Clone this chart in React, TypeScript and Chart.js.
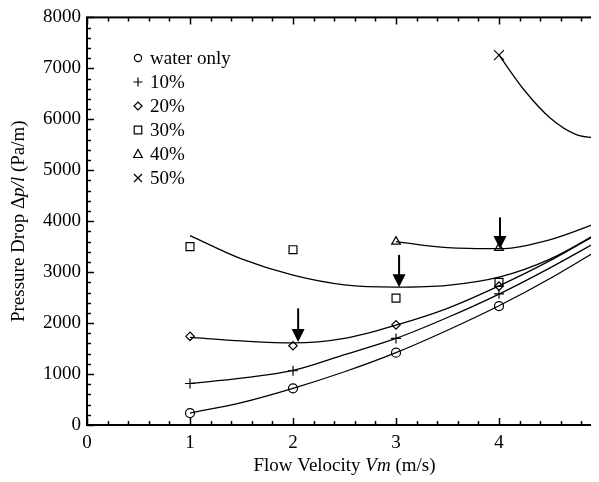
import React, { useEffect, useRef } from "react";
import { Chart, registerables } from "chart.js";

Chart.register(...registerables);

// ---- data ----
const velocity = [1, 2, 3, 4, 5];
const waterOnly = [235, 720, 1420, 2335, 3480];
const conc10 = [815, 1065, 1700, 2575, 3650];
const conc20 = [1740, 1555, 1965, 2725, 3800];
const conc30 = [3500, 3440, 2490, 2800, 3850];
const velocity40 = [3, 4, 5];
const conc40 = [3600, 3475, 4000];
const velocity50 = [4, 5];
const conc50 = [7260, 5850];

// fitted curves
const fitVelocity = [1, 1.5, 2, 2.5, 3, 3.5, 4, 4.5, 5];
const fitWater = [235, 440, 720, 1045, 1420, 1860, 2340, 2880, 3480];
const fit10 = [815, 920, 1070, 1380, 1700, 2110, 2570, 3090, 3650];
const fit20 = [1720, 1650, 1610, 1700, 1960, 2290, 2730, 3230, 3800];
const fit30 = [3718, 3260, 2940, 2750, 2706, 2740, 2900, 3260, 3810];
const fitVelocity40 = [3, 3.5, 4, 4.5, 5];
const fit40 = [3600, 3480, 3460, 3640, 4000];
const fitVelocity50 = [4, 4.25, 4.5, 4.75, 5];
const fit50 = [7260, 6560, 6020, 5700, 5625];

// arrows marking minima
const arrowX = [2.05, 3.03, 4.01];
const arrowFrom = [2290, 3340, 4075];
const arrowTo = [1630, 2705, 3455];

const legendLabels = ["water only", "10%", "20%", "30%", "40%", "50%"];
const legendStyles = ["circle", "plus", "diamond", "square", "triangle", "cross"];

const xTicks = [0, 1, 2, 3, 4, 5];
const yTicks = [0, 1000, 2000, 3000, 4000, 5000, 6000, 7000, 8000];

const FONT = "'Liberation Serif', 'Times New Roman', serif";
const FS = 19;

function pts(xs: number[], ys: number[]) {
  return xs.map((x, i) => ({ x, y: ys[i] }));
}

function drawMarker(ctx: CanvasRenderingContext2D, style: string, x: number, y: number) {
  ctx.save();
  ctx.strokeStyle = "#000";
  ctx.lineWidth = 1.2;
  ctx.beginPath();
  if (style === "circle") {
    ctx.arc(x, y, 3.6, 0, Math.PI * 2);
  } else if (style === "plus") {
    ctx.moveTo(x - 4.5, y); ctx.lineTo(x + 4.5, y);
    ctx.moveTo(x, y - 4.5); ctx.lineTo(x, y + 4.5);
  } else if (style === "diamond") {
    ctx.moveTo(x, y - 4); ctx.lineTo(x + 4, y); ctx.lineTo(x, y + 4); ctx.lineTo(x - 4, y); ctx.closePath();
  } else if (style === "square") {
    ctx.rect(x - 3.8, y - 3.8, 7.6, 7.6);
  } else if (style === "triangle") {
    ctx.moveTo(x, y - 4.5); ctx.lineTo(x + 4.3, y + 3.5); ctx.lineTo(x - 4.3, y + 3.5); ctx.closePath();
  } else if (style === "cross") {
    ctx.moveTo(x - 4, y - 4); ctx.lineTo(x + 4, y + 4);
    ctx.moveTo(x + 4, y - 4); ctx.lineTo(x - 4, y + 4);
  }
  ctx.stroke();
  ctx.restore();
}

function drawMixed(ctx: CanvasRenderingContext2D, parts: [string, boolean][], cx: number, cy: number) {
  const widths = parts.map(([t, it]) => {
    ctx.font = `${it ? "italic " : ""}${FS}px ${FONT}`;
    return ctx.measureText(t).width;
  });
  const total = widths.reduce((a, b) => a + b, 0);
  let x = cx - total / 2;
  ctx.textBaseline = "middle";
  ctx.textAlign = "left";
  parts.forEach(([t, it], i) => {
    ctx.font = `${it ? "italic " : ""}${FS}px ${FONT}`;
    ctx.fillText(t, x, cy);
    x += widths[i];
  });
}

const framePlugin = {
  id: "frame",
  afterDatasetsDraw(chart: any) {
    const { ctx, chartArea: a, scales } = chart;
    const xs = scales.x;
    const ys = scales.y;
    ctx.save();
    ctx.fillStyle = "#000";
    ctx.strokeStyle = "#000";

    // arrows
    arrowX.forEach((ax, i) => {
      const px = xs.getPixelForValue(ax);
      const y0 = ys.getPixelForValue(arrowFrom[i]);
      const y1 = ys.getPixelForValue(arrowTo[i]);
      const head = 13;
      ctx.lineWidth = 2;
      ctx.beginPath();
      ctx.moveTo(px, y0);
      ctx.lineTo(px, y1 - head + 1);
      ctx.stroke();
      ctx.beginPath();
      ctx.moveTo(px - 6.5, y1 - head);
      ctx.lineTo(px + 6.5, y1 - head);
      ctx.lineTo(px, y1);
      ctx.closePath();
      ctx.fill();
    });

    // frame
    ctx.lineWidth = 2;
    ctx.strokeRect(a.left, a.top, a.right - a.left, a.bottom - a.top);

    // ticks
    ctx.lineWidth = 1.5;
    ctx.beginPath();
    for (let v = 0; v <= 5.0001; v += 0.2) {
      const px = Math.round(xs.getPixelForValue(v)) + 0.5;
      const major = Math.abs(v - Math.round(v)) < 1e-6;
      const len = major ? 7 : 4;
      ctx.moveTo(px, a.bottom); ctx.lineTo(px, a.bottom - len);
      ctx.moveTo(px, a.top); ctx.lineTo(px, a.top + len);
    }
    for (let v = 0; v <= 8000.1; v += 200) {
      const py = Math.round(ys.getPixelForValue(v)) + 0.5;
      const major = v % 1000 === 0;
      const len = major ? 7 : 4;
      ctx.moveTo(a.left, py); ctx.lineTo(a.left + len, py);
      ctx.moveTo(a.right, py); ctx.lineTo(a.right - len, py);
    }
    ctx.stroke();

    // legend
    ctx.font = `${FS}px ${FONT}`;
    ctx.textBaseline = "middle";
    ctx.textAlign = "left";
    legendLabels.forEach((lab, i) => {
      const y = 58 + i * 24;
      drawMarker(ctx, legendStyles[i], 130, y);
      ctx.fillText(lab, 142, y + 1);
    });

    // axis titles
    drawMixed(ctx, [["Flow Velocity ", false], ["Vm", true], [" (m/s)", false]], (a.left + a.right) / 2, 466);
    ctx.save();
    ctx.translate(11, (a.top + a.bottom) / 2);
    ctx.rotate(-Math.PI / 2);
    drawMixed(ctx, [["Pressure Drop \u0394", false], ["p/l", true], [" (Pa/m)", false]], 0, 0);
    ctx.restore();

    ctx.restore();
  },
};

export default function App() {
  const ref = useRef<HTMLCanvasElement | null>(null);
  useEffect(() => {
    if (!ref.current) return;
    const pointDs = (label: string, xs: number[], ys: number[], style: any, r: number) => ({
      label,
      data: pts(xs, ys),
      showLine: false,
      pointStyle: style,
      pointRadius: r,
      pointBorderWidth: 1.2,
      pointBorderColor: "#000",
      pointBackgroundColor: "rgba(0,0,0,0)",
      borderColor: "#000",
    });
    const lineDs = (xs: number[], ys: number[]) => ({
      label: "fit",
      data: pts(xs, ys),
      showLine: true,
      pointRadius: 0,
      borderColor: "#000",
      borderWidth: 1.3,
      cubicInterpolationMode: "monotone",
      fill: false,
    });
    const chart = new Chart(ref.current, {
      type: "scatter",
      data: {
        datasets: [
          lineDs(fitVelocity, fitWater),
          lineDs(fitVelocity, fit10),
          lineDs(fitVelocity, fit20),
          lineDs(fitVelocity, fit30),
          lineDs(fitVelocity40, fit40),
          lineDs(fitVelocity50, fit50),
          pointDs("water only", velocity, waterOnly, "circle", 4.5),
          pointDs("10%", velocity, conc10, "cross", 5),
          pointDs("20%", velocity, conc20, "rectRot", 4.2),
          pointDs("30%", velocity, conc30, "rect", 5.6),
          pointDs("40%", velocity40, conc40, "triangle", 5),
          pointDs("50%", velocity50, conc50, "crossRot", 7),
        ] as any,
      },
      options: {
        animation: false,
        responsive: false,
        devicePixelRatio: 1,
        layout: { padding: { left: 0, top: 0, right: 46, bottom: 0 } },
        plugins: { legend: { display: false }, tooltip: { enabled: false } },
        scales: {
          x: {
            type: "linear",
            min: 0,
            max: 5,
            afterFit: (s: any) => { s.height = 57; },
            afterBuildTicks: (s: any) => { s.ticks = xTicks.map((v) => ({ value: v })); },
            grid: { display: false, drawTicks: false },
            border: { display: false },
            ticks: { color: "#000", font: { family: FONT, size: FS }, padding: 7, callback: (v: any) => String(v) },
          },
          y: {
            type: "linear",
            min: 0,
            max: 8000,
            afterFit: (s: any) => { s.width = 79; },
            afterBuildTicks: (s: any) => { s.ticks = yTicks.map((v) => ({ value: v })); },
            grid: { display: false, drawTicks: false },
            border: { display: false },
            ticks: { color: "#000", font: { family: FONT, size: FS }, padding: 6, callback: (v: any) => String(v) },
          },
        },
      } as any,
      plugins: [framePlugin],
    });
    return () => chart.destroy();
  }, []);
  return (
    <div style={{ width: 591, height: 474, overflow: "hidden", position: "relative" }}>
      <canvas ref={ref} width={640} height={482} style={{ display: "block", width: 640, height: 482, marginTop: -8 }} />
    </div>
  );
}
